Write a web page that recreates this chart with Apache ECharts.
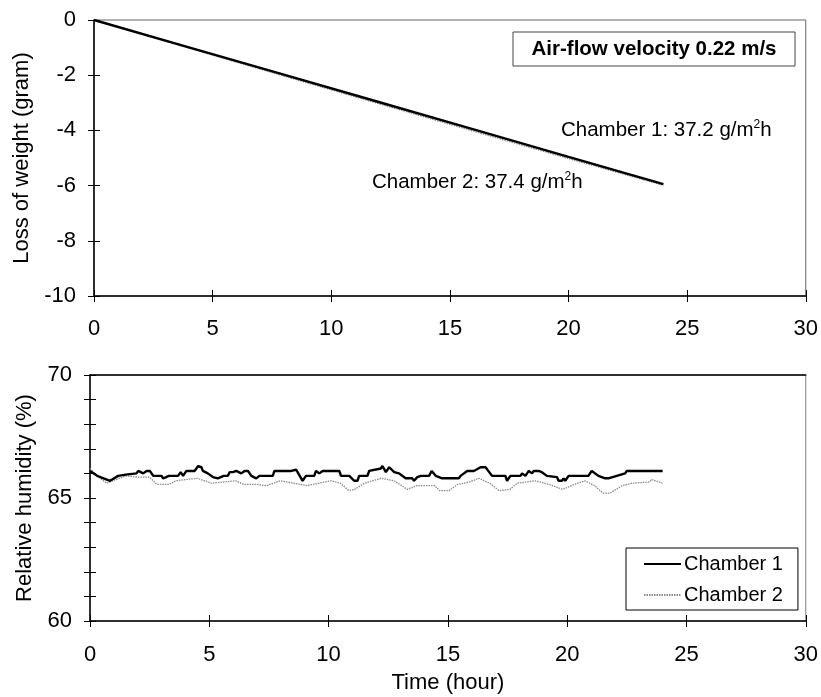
<!DOCTYPE html>
<html><head><meta charset="utf-8">
<script src="https://cdn.jsdelivr.net/npm/echarts@6/dist/echarts.min.js"></script>
<style>html,body{margin:0;padding:0;background:#fff}#c{width:821px;height:697px}</style>
</head><body><div id="c"></div>
<script>
// ---- data ----
const weightHours = [0, 4, 8, 12, 16, 20, 24];
const weightCh1 = [0, -0.99, -1.98, -2.97, -3.96, -4.96, -5.95];
const weightCh2 = [0, -1.02, -2.03, -3.03, -4.03, -5.02, -5.99];

const rhCh1Hours = [0,0.3,0.84,1.18,1.5,1.95,2.02,2.23,2.37,2.51,2.65,3.0,3.06,3.2,3.3,3.69,3.8,3.9,4.04,4.39,4.53,4.67,4.73,4.94,5.15,5.36,5.6,5.78,5.85,6.0,6.13,6.34,6.48,6.62,6.76,6.97,7.1,7.66,7.73,8.43,8.64,8.91,9.05,9.4,9.47,9.61,9.75,10.45,10.52,10.87,11.07,11.21,11.28,11.63,11.7,12.19,12.26,12.4,12.54,12.75,12.95,13.23,13.51,13.58,13.72,13.86,14.21,14.32,14.49,14.76,15.46,15.53,15.81,16.09,16.37,16.58,16.64,16.85,17.41,17.48,17.62,18.04,18.11,18.25,18.39,18.53,18.6,18.8,18.94,19.01,19.15,19.57,19.64,19.78,19.85,19.92,20.06,20.89,21.03,21.1,21.31,21.59,21.73,22.08,22.43,22.5,24.0];
const rhCh1 = [66.1,65.9,65.7,65.9,65.95,66.0,66.1,66.0,66.1,66.1,65.9,65.9,65.8,65.85,65.9,65.9,66.05,65.9,66.1,66.1,66.3,66.25,66.1,66.0,65.85,65.8,65.9,65.9,66.05,66.05,66.1,66.0,66.1,66.1,65.9,65.8,65.9,65.9,66.1,66.1,66.15,65.7,65.9,65.9,66.1,66.0,66.1,66.1,65.9,65.9,65.7,65.7,65.9,65.9,66.1,66.2,66.3,66.05,66.25,66.05,66.0,65.8,65.8,65.7,65.85,65.9,65.9,66.1,65.9,65.8,65.8,65.9,66.1,66.1,66.25,66.25,66.2,65.9,65.9,65.7,65.9,65.9,66.0,65.9,66.1,66.0,66.1,66.1,66.05,66.1,65.9,65.85,65.7,65.7,65.8,65.7,65.9,65.9,66.1,66.1,65.9,65.8,65.8,65.9,66.0,66.1,66.1];

const rhCh2Hours = [0,0.3,0.7,1.1,1.5,2.0,2.5,2.8,3.3,3.6,4.0,4.5,5.1,5.6,6.1,6.45,7.0,7.4,7.97,8.55,9.1,9.6,10.1,10.5,10.85,11.1,11.5,12.2,12.75,13.3,13.7,14.45,14.65,15.05,15.4,15.9,16.3,16.75,17.15,17.6,17.9,18.65,19.25,19.8,20.3,20.75,21.15,21.5,21.8,22.3,22.7,23.45,23.55,24.0];
const rhCh2 = [66.2,65.9,65.6,65.75,65.9,65.85,65.85,65.55,65.55,65.7,65.75,65.8,65.6,65.65,65.7,65.55,65.55,65.5,65.7,65.6,65.5,65.6,65.7,65.6,65.3,65.35,65.6,65.8,65.7,65.35,65.5,65.5,65.3,65.3,65.55,65.65,65.8,65.6,65.3,65.35,65.6,65.7,65.55,65.35,65.55,65.7,65.5,65.2,65.2,65.5,65.6,65.65,65.75,65.6];

const xTicks = {min: 0, max: 30, interval: 5};
const weightTicks = {min: -10, max: 0, interval: 2};
const rhTicks = {min: 60, max: 70, interval: 1};

const pairs = (xs, ys) => xs.map((x, i) => [x, ys[i]]);

const FONT = "'Liberation Sans', Arial, sans-serif";
const txt = {color: '#000', fontFamily: FONT, fontSize: 22};
const chart = echarts.init(document.getElementById('c'));

function xAx(grid, main, margin, extra) {
  return Object.assign({
    type: 'value', gridIndex: grid, position: 'bottom', min: xTicks.min, max: xTicks.max, interval: xTicks.interval,
    splitLine: {show: false},
    axisLine: {show: main, onZero: false, lineStyle: {color: '#000', width: 1.5}},
    axisTick: {show: true, inside: !main, length: 6, lineStyle: {color: '#000', width: 1}},
    axisLabel: {show: main, margin: margin, ...txt}
  }, extra || {});
}
function yAx(grid, t, main, extra) {
  return Object.assign({
    type: 'value', gridIndex: grid, position: 'left', min: t.min, max: t.max, interval: t.interval,
    splitLine: {show: false},
    axisLine: {show: main, onZero: false, lineStyle: {color: '#000', width: 1.5}},
    axisTick: {show: true, inside: !main, length: 6, lineStyle: {color: '#000', width: 1}},
    axisLabel: {show: main, margin: 18, ...txt}
  }, extra || {});
}

const rich = {
  a: {fontFamily: FONT, fontSize: 20.5, fill: '#000'},
  s: {fontFamily: FONT, fontSize: 12, fill: '#000', padding: [0, 0, 11, 0]}
};

chart.setOption({
  animation: false,
  backgroundColor: '#fff',
  textStyle: {fontFamily: FONT},
  grid: [
    {left: 94, top: 20, width: 714, height: 276, show: true, borderColor: '#666', borderWidth: 1},
    {left: 90, top: 375, width: 718, height: 246, show: true, borderColor: '#808080', borderWidth: 1}
  ],
  xAxis: [
    xAx(0, true, 22),
    xAx(0, false, 22),
    xAx(1, true, 23, {name: 'Time (hour)', nameLocation: 'middle', nameGap: 51, nameTextStyle: txt}),
    xAx(1, false, 23),
    {type: 'value', gridIndex: 1, position: 'top', min: 0, max: 30, axisLine: {show: true, lineStyle: {color: '#000', width: 1.5}}, axisTick: {show: false}, axisLabel: {show: false}, splitLine: {show: false}}
  ],
  yAxis: [
    yAx(0, weightTicks, true, {name: 'Loss of weight (gram)', nameLocation: 'middle', nameGap: 58, nameTextStyle: txt}),
    yAx(0, weightTicks, false),
    yAx(1, rhTicks, true, {name: 'Relative humidity (%)', nameLocation: 'middle', nameGap: 54, nameTextStyle: txt,
      axisLabel: {show: true, margin: 18, ...txt, formatter: v => (v % 5 === 0 ? String(v) : '')}}),
    yAx(1, rhTicks, false)
  ],
  legend: {
    data: ['Chamber 1', 'Chamber 2'],
    orient: 'vertical', left: 626, top: 548,
    borderColor: '#000', borderWidth: 1, padding: [6, 15, 5, 17],
    itemWidth: 37, itemHeight: 14, itemGap: 11,
    itemStyle: {opacity: 0},
    textStyle: {color: '#000', fontFamily: FONT, fontSize: 20, padding: [0, 0, 0, -2]}
  },
  series: [
    {name: 'Chamber 2', type: 'line', xAxisIndex: 0, yAxisIndex: 0, data: pairs(weightHours, weightCh2), symbol: 'none',
     lineStyle: {color: '#8a8a8a', width: 1.3, type: [1.5, 1]}, itemStyle: {color: '#8a8a8a'}},
    {name: 'Chamber 1', type: 'line', xAxisIndex: 0, yAxisIndex: 0, data: pairs(weightHours, weightCh1), symbol: 'none',
     lineStyle: {color: '#000', width: 2.4}, itemStyle: {color: '#000'}},
    {name: 'Chamber 2', type: 'line', xAxisIndex: 2, yAxisIndex: 2, data: pairs(rhCh2Hours, rhCh2), symbol: 'none',
     lineStyle: {color: '#8a8a8a', width: 1.3, type: [1.5, 1]}, itemStyle: {color: '#8a8a8a'}},
    {name: 'Chamber 1', type: 'line', xAxisIndex: 2, yAxisIndex: 2, data: pairs(rhCh1Hours, rhCh1), symbol: 'none',
     lineStyle: {color: '#000', width: 2.4}, itemStyle: {color: '#000'}}
  ],
  graphic: [
    {type: 'rect', shape: {x: 513, y: 32, width: 282, height: 34}, style: {fill: '#fff', stroke: '#444', lineWidth: 1}},
    {type: 'text', x: 654, y: 49, style: {text: 'Air-flow velocity 0.22 m/s', font: 'bold 20.5px ' + FONT, fill: '#000', align: 'center', verticalAlign: 'middle'}},
    {type: 'text', x: 561, y: 130, style: {text: '{a|Chamber 1: 37.2 g/m}{s|2}{a|h}', verticalAlign: 'middle', rich: rich}},
    {type: 'text', x: 372, y: 182, style: {text: '{a|Chamber 2: 37.4 g/m}{s|2}{a|h}', verticalAlign: 'middle', rich: rich}}
  ]
});
</script></body></html>
